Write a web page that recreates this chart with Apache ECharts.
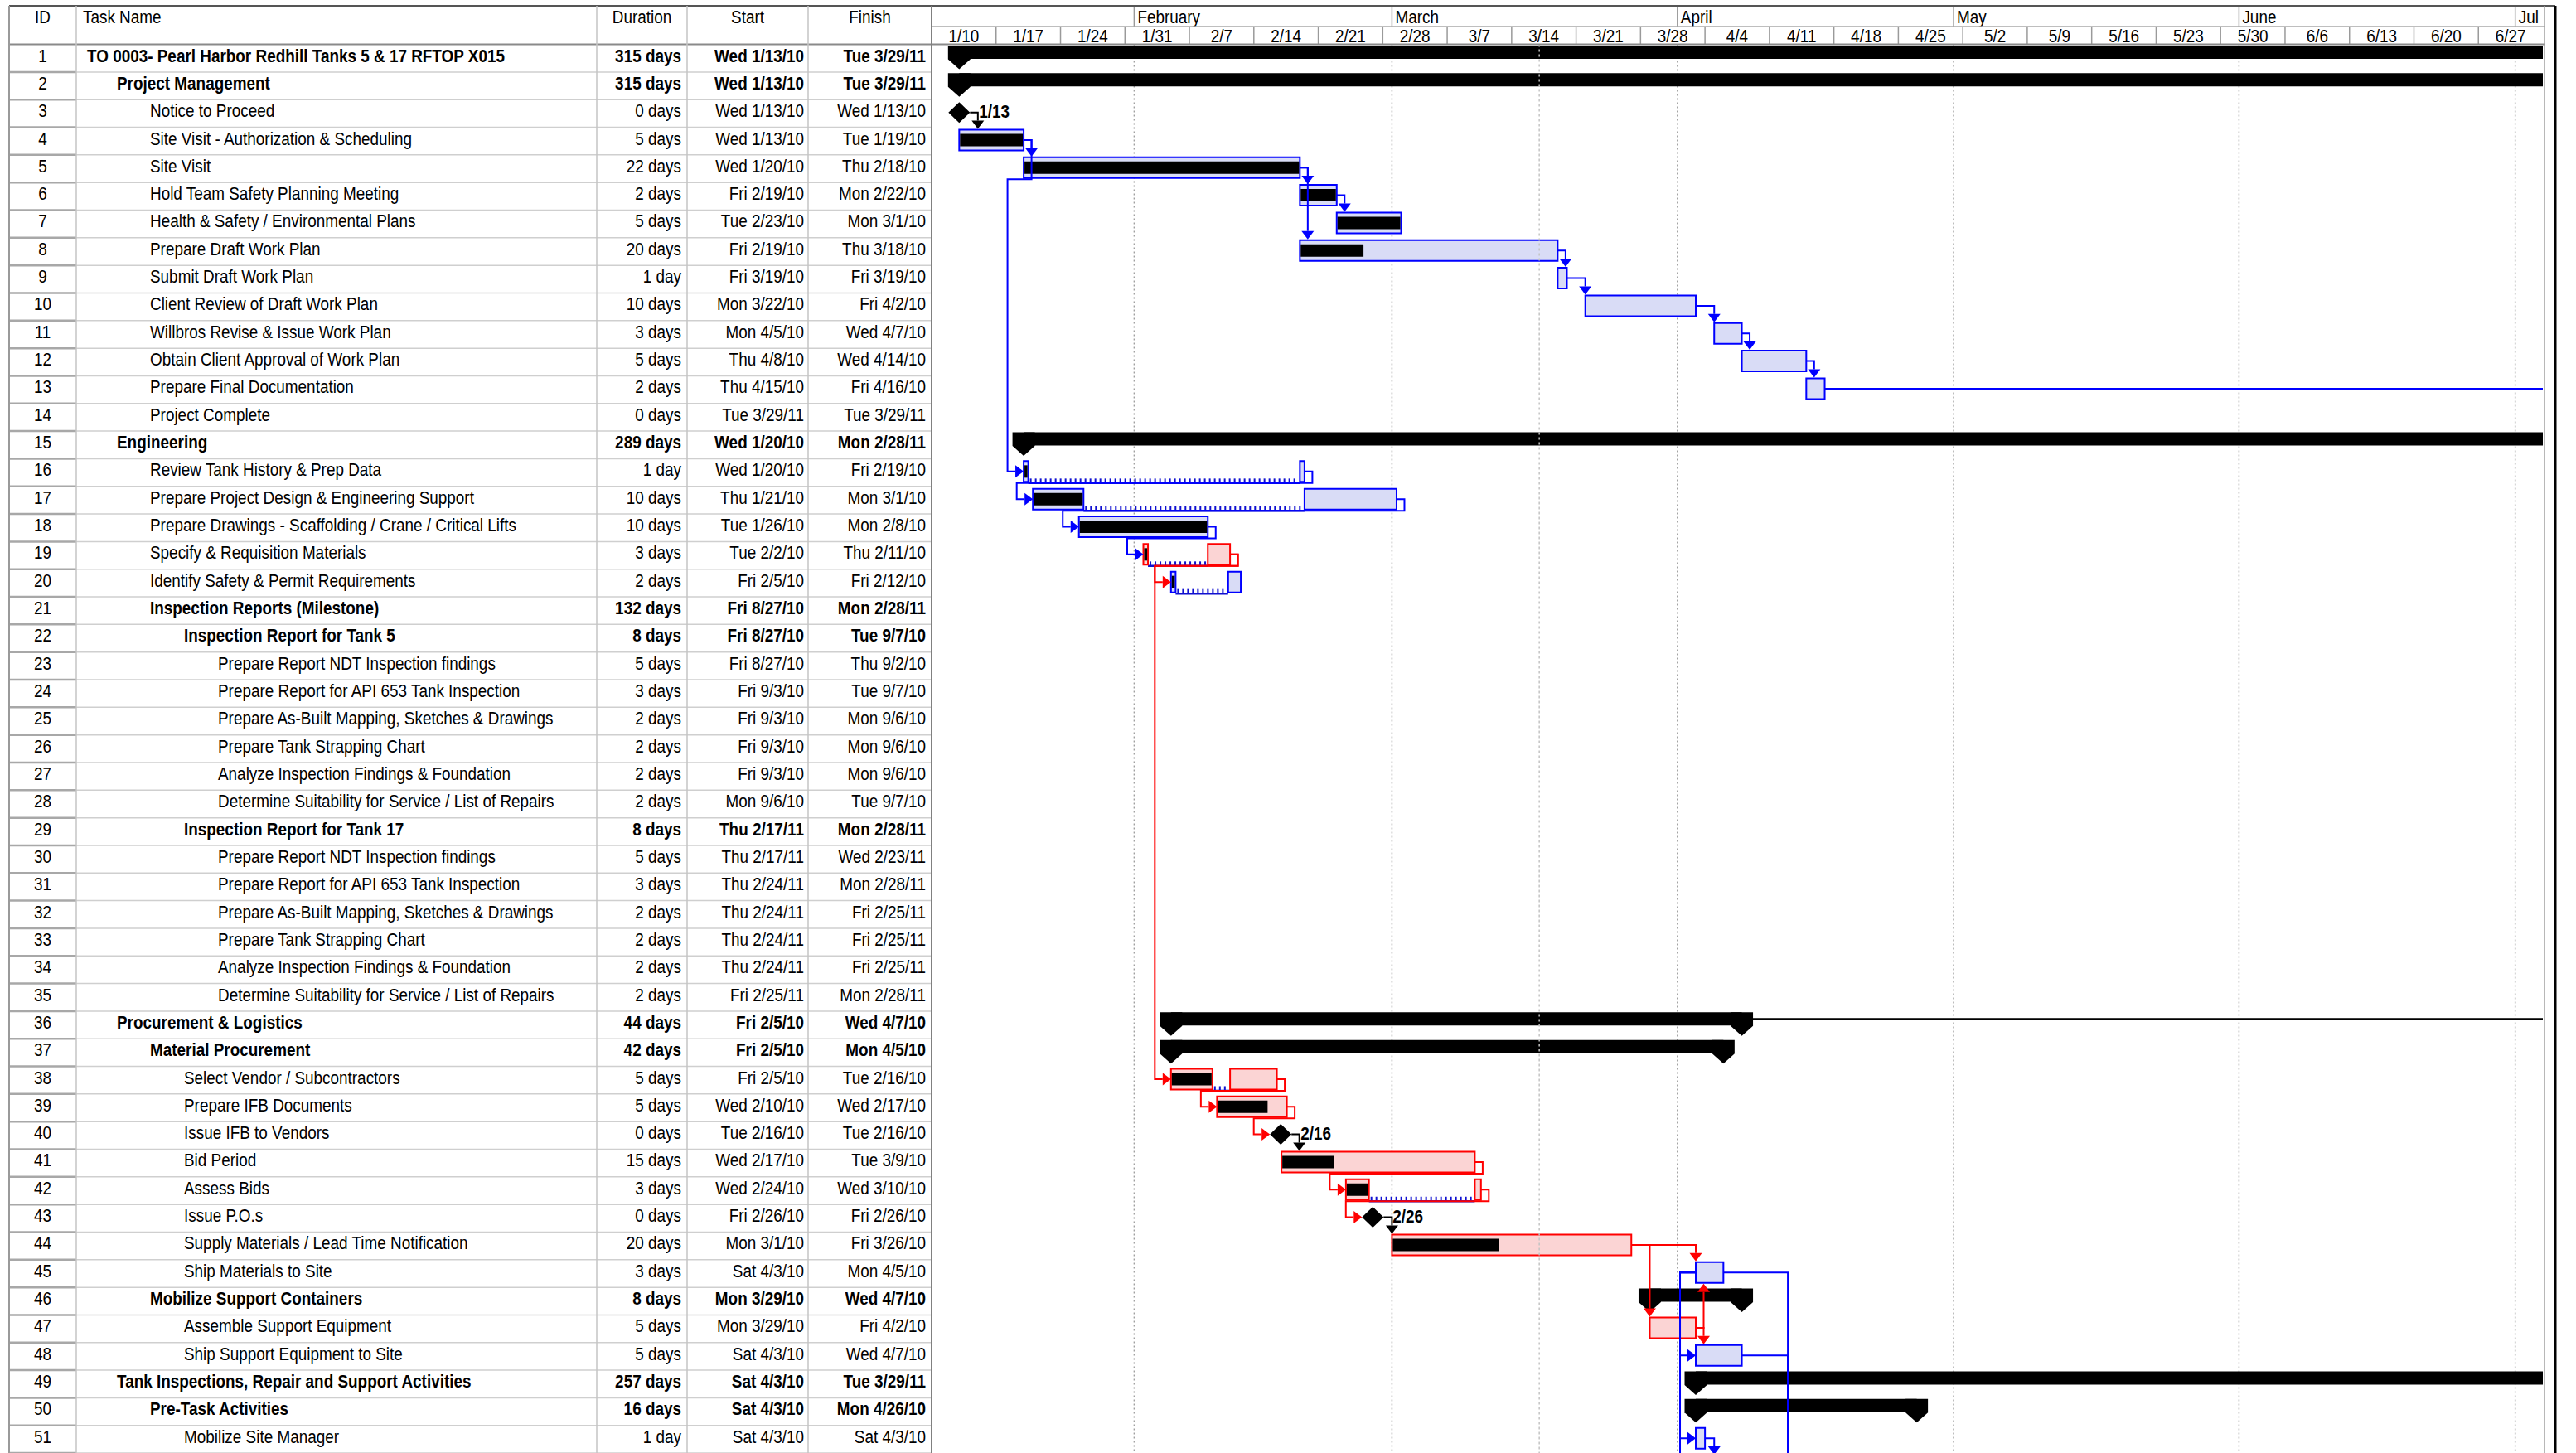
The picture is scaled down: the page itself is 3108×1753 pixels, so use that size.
<!DOCTYPE html>
<html><head><meta charset="utf-8">
<script src="https://cdn.jsdelivr.net/npm/echarts@6/dist/echarts.min.js"></script>
<style>html,body{margin:0;padding:0;background:#fff}#c{width:3108px;height:1753px}</style>
</head><body><div id="c"></div>
<script>
// ---------------- DATA ----------------
const columnTitles = ['ID', 'Task Name', 'Duration', 'Start', 'Finish'];
const taskNames = [
 'TO 0003- Pearl Harbor Redhill Tanks 5 & 17 RFTOP X015','Project Management','Notice to Proceed',
 'Site Visit - Authorization & Scheduling','Site Visit','Hold Team Safety Planning Meeting',
 'Health & Safety / Environmental Plans','Prepare Draft Work Plan','Submit Draft Work Plan',
 'Client Review of Draft Work Plan','Willbros Revise & Issue Work Plan','Obtain Client Approval of Work Plan',
 'Prepare Final Documentation','Project Complete','Engineering','Review Tank History & Prep Data',
 'Prepare Project Design & Engineering Support','Prepare Drawings - Scaffolding / Crane / Critical Lifts',
 'Specify & Requisition Materials','Identify Safety & Permit Requirements','Inspection Reports (Milestone)',
 'Inspection Report for Tank 5','Prepare Report NDT Inspection findings','Prepare Report for API 653 Tank Inspection',
 'Prepare As-Built Mapping, Sketches & Drawings','Prepare Tank Strapping Chart','Analyze Inspection Findings & Foundation',
 'Determine Suitability for Service / List of Repairs','Inspection Report for Tank 17','Prepare Report NDT Inspection findings',
 'Prepare Report for API 653 Tank Inspection','Prepare As-Built Mapping, Sketches & Drawings','Prepare Tank Strapping Chart',
 'Analyze Inspection Findings & Foundation','Determine Suitability for Service / List of Repairs','Procurement & Logistics',
 'Material Procurement','Select Vendor / Subcontractors','Prepare IFB Documents','Issue IFB to Vendors','Bid Period',
 'Assess Bids','Issue P.O.s','Supply Materials / Lead Time Notification','Ship Materials to Site',
 'Mobilize Support Containers','Assemble Support Equipment','Ship Support Equipment to Site',
 'Tank Inspections, Repair and Support Activities','Pre-Task Activities','Mobilize Site Manager'
];
const outlineLevels = [0,1,2,2,2,2,2,2,2,2,2,2,2,2,1,2,2,2,2,2,2,3,4,4,4,4,4,4,3,4,4,4,4,4,4,1,2,3,3,3,3,3,3,3,3,2,3,3,1,2,3];
const durations = ['315 days','315 days','0 days','5 days','22 days','2 days','5 days','20 days','1 day','10 days','3 days',
 '5 days','2 days','0 days','289 days','1 day','10 days','10 days','3 days','2 days','132 days','8 days','5 days','3 days',
 '2 days','2 days','2 days','2 days','8 days','5 days','3 days','2 days','2 days','2 days','2 days','44 days','42 days',
 '5 days','5 days','0 days','15 days','3 days','0 days','20 days','3 days','8 days','5 days','5 days','257 days','16 days','1 day'];
const startLabels = ['Wed 1/13/10','Wed 1/13/10','Wed 1/13/10','Wed 1/13/10','Wed 1/20/10','Fri 2/19/10','Tue 2/23/10',
 'Fri 2/19/10','Fri 3/19/10','Mon 3/22/10','Mon 4/5/10','Thu 4/8/10','Thu 4/15/10','Tue 3/29/11','Wed 1/20/10','Wed 1/20/10',
 'Thu 1/21/10','Tue 1/26/10','Tue 2/2/10','Fri 2/5/10','Fri 8/27/10','Fri 8/27/10','Fri 8/27/10','Fri 9/3/10','Fri 9/3/10',
 'Fri 9/3/10','Fri 9/3/10','Mon 9/6/10','Thu 2/17/11','Thu 2/17/11','Thu 2/24/11','Thu 2/24/11','Thu 2/24/11','Thu 2/24/11',
 'Fri 2/25/11','Fri 2/5/10','Fri 2/5/10','Fri 2/5/10','Wed 2/10/10','Tue 2/16/10','Wed 2/17/10','Wed 2/24/10','Fri 2/26/10',
 'Mon 3/1/10','Sat 4/3/10','Mon 3/29/10','Mon 3/29/10','Sat 4/3/10','Sat 4/3/10','Sat 4/3/10','Sat 4/3/10'];
const finishLabels = ['Tue 3/29/11','Tue 3/29/11','Wed 1/13/10','Tue 1/19/10','Thu 2/18/10','Mon 2/22/10','Mon 3/1/10',
 'Thu 3/18/10','Fri 3/19/10','Fri 4/2/10','Wed 4/7/10','Wed 4/14/10','Fri 4/16/10','Tue 3/29/11','Mon 2/28/11','Fri 2/19/10',
 'Mon 3/1/10','Mon 2/8/10','Thu 2/11/10','Fri 2/12/10','Mon 2/28/11','Tue 9/7/10','Thu 9/2/10','Tue 9/7/10','Mon 9/6/10',
 'Mon 9/6/10','Mon 9/6/10','Tue 9/7/10','Mon 2/28/11','Wed 2/23/11','Mon 2/28/11','Fri 2/25/11','Fri 2/25/11','Fri 2/25/11',
 'Mon 2/28/11','Wed 4/7/10','Mon 4/5/10','Tue 2/16/10','Wed 2/17/10','Tue 2/16/10','Tue 3/9/10','Wed 3/10/10','Fri 2/26/10',
 'Fri 3/26/10','Mon 4/5/10','Wed 4/7/10','Fri 4/2/10','Wed 4/7/10','Tue 3/29/11','Mon 4/26/10','Sat 4/3/10'];
const S='summary', T='task', M='milestone';
const rowKinds = [S,S,M,T,T,T,T,T,T,T,T,T,T,M,S,T,T,T,T,T,S,S,T,T,T,T,T,T,S,T,T,T,T,T,T,S,S,T,T,M,T,T,M,T,T,S,T,T,S,S,T];
const criticalRows = [19,38,39,41,42,44,47];
// bar segments (calendar start, calendar end) per row
const barSegments = [
 [['2010-01-13','2011-03-30']], [['2010-01-13','2011-03-30']], [['2010-01-13','2010-01-13']],
 [['2010-01-13','2010-01-20']], [['2010-01-20','2010-02-19']], [['2010-02-19','2010-02-23']],
 [['2010-02-23','2010-03-02']], [['2010-02-19','2010-03-19']], [['2010-03-19','2010-03-20']],
 [['2010-03-22','2010-04-03']], [['2010-04-05','2010-04-08']], [['2010-04-08','2010-04-15']],
 [['2010-04-15','2010-04-17']], [['2011-03-29T17:00','2011-03-29T17:00']], [['2010-01-20','2011-03-01']],
 [['2010-01-20','2010-01-20T12:00'],['2010-02-19','2010-02-19T12:00']],
 [['2010-01-21','2010-01-26T12:00'],['2010-02-19T12:00','2010-03-01T12:00']],
 [['2010-01-26','2010-02-09']],
 [['2010-02-02','2010-02-02T12:00'],['2010-02-09','2010-02-11T10:00']],
 [['2010-02-05','2010-02-05T12:00'],['2010-02-11T05:00','2010-02-12T14:00']],
 [['2010-08-27','2011-03-01']], [['2010-08-27','2010-09-08']], [['2010-08-27','2010-09-03']],
 [['2010-09-03','2010-09-08']], [['2010-09-03','2010-09-07']], [['2010-09-03','2010-09-07']],
 [['2010-09-03','2010-09-07']], [['2010-09-06','2010-09-08']], [['2011-02-17','2011-03-01']],
 [['2011-02-17','2011-02-24']], [['2011-02-24','2011-03-01']], [['2011-02-24','2011-02-26']],
 [['2011-02-24','2011-02-26']], [['2011-02-24','2011-02-26']], [['2011-02-25','2011-03-01']],
 [['2010-02-05','2010-04-08']], [['2010-02-05','2010-04-06']],
 [['2010-02-05','2010-02-09T12:00'],['2010-02-11T10:00','2010-02-16T12:00']],
 [['2010-02-10','2010-02-17T14:00']], [['2010-02-16T22:00','2010-02-16T22:00']],
 [['2010-02-17','2010-03-10']],
 [['2010-02-24','2010-02-26T12:00'],['2010-03-10','2010-03-10T16:00']],
 [['2010-02-26T22:00','2010-02-26T22:00']], [['2010-03-01','2010-03-27']],
 [['2010-04-03','2010-04-06']], [['2010-03-29','2010-04-08']], [['2010-03-29','2010-04-03']],
 [['2010-04-03','2010-04-08']], [['2010-04-03','2011-03-30']], [['2010-04-03','2010-04-27']],
 [['2010-04-03','2010-04-04']]
];
const progressEnds = {4:'2010-01-20',5:'2010-02-19',6:'2010-02-23',7:'2010-03-02',8:'2010-02-26',
 16:'2010-01-20T12:00',17:'2010-01-26T12:00',18:'2010-02-09',19:'2010-02-02T12:00',20:'2010-02-05T12:00',
 38:'2010-02-09T12:00',39:'2010-02-15T14:00',41:'2010-02-22T18:00',42:'2010-02-26T12:00',44:'2010-03-12T16:00'};
// successors below the visible rows
const offscreenStarts = {52:'2010-04-05', 53:'2010-04-13'};
// [predecessor, successor, route, turnRow]
const links = [
 [3,4,'down'],[4,5,'down'],[4,16,'around',5],[5,6,'down'],[5,8,'down'],[6,7,'down'],[8,9,'down'],
 [9,10,'down'],[10,11,'down'],[11,12,'down'],[12,13,'down'],[13,14,'down'],
 [16,17,'around',16],[17,18,'around',17],[18,19,'around',18],[19,20,'around',19],[19,38,'around',19],
 [36,21,'up'],[38,39,'around',38],[39,40,'around',39],[40,41,'down'],[41,42,'around',41],[42,43,'around',42],
 [43,44,'down'],[44,45,'down'],[44,47,'down'],[47,45,'up'],[47,48,'down'],
 [45,48,'ss'],[45,51,'ss'],[45,53,'ss'],[45,53,'down'],[48,53,'down'],[51,52,'down']
];
const weekStarts = ['2010-01-10','2010-01-17','2010-01-24','2010-01-31','2010-02-07','2010-02-14','2010-02-21',
 '2010-02-28','2010-03-07','2010-03-14','2010-03-21','2010-03-28','2010-04-04','2010-04-11','2010-04-18','2010-04-25',
 '2010-05-02','2010-05-09','2010-05-16','2010-05-23','2010-05-30','2010-06-06','2010-06-13','2010-06-20','2010-06-27'];
const monthStarts = ['2010-02-01','2010-03-01','2010-04-01','2010-05-01','2010-06-01','2010-07-01'];
const monthLabels = ['February','March','April','May','June','Jul'];
const currentDate = '2010-03-17';
const timeRange = ['2010-01-10','2010-07-04'];

// ---------------- HELPERS / LAYOUT ----------------
const DAY = 86400000;
function t(s){ const m=/^(\d{4})-(\d{2})-(\d{2})(?:T(\d{2}):(\d{2}))?$/.exec(s);
  return Date.UTC(+m[1], +m[2]-1, +m[3], m[4]?+m[4]:0, m[5]?+m[5]:0); }
function md(ms){ const d=new Date(ms); return (d.getUTCMonth()+1)+'/'+d.getUTCDate(); }
const tMin=t(timeRange[0]), tMax=t(timeRange[1]);
const FONT = "'Liberation Sans', Arial, Helvetica, sans-serif";
const FS = 22, SX = 0.86;
const ROW_H = 33.4, GRID_TOP = 53.5, GRID_LEFT = 1124, GRID_W = 1944, NROW = taskNames.length;
const GRID_RIGHT = GRID_LEFT + GRID_W;
const HDR_TOP = 7, HDR_MID = 32, HDR_BOT = 53.5;
const COLS = [11, 92, 720, 829, 975, 1124];
const NAME_X = [105, 141, 181, 222, 263];
const BLUE='#0000ff', BLUE_FILL='#d9dcf6', RED='#ff0000', RED_FILL='#fbd4d4', COMB='#1010d0';
const TEXT_DY = 13;

function G(api){ return { x: ms => api.coord([ms,0])[0], top: row => api.coord([tMin,row-1])[1] }; }
function info(row, g){
  const top = g.top(row);
  if (row > NROW){ const sx=g.x(t(offscreenStarts[row])); return {kind:T, startX:sx, endX:sx+11, top, cy:top+15.5, boxTop:top+2, boxBottom:top+29, crit:false}; }
  const i=row-1, kind=rowKinds[i], segs=barSegments[i];
  if (kind===M){ const c=g.x(t(segs[0][0])); return {kind, startX:c-13, endX:c+13, top, cy:top+15.5, boxTop:top+3, boxBottom:top+28}; }
  const sx=g.x(t(segs[0][0])), ex=g.x(t(segs[segs.length-1][1]));
  if (kind===S) return {kind, startX:sx, endX:ex, top, cy:top+9.5, boxTop:top+1.5, boxBottom:top+17.5};
  return {kind, startX:sx, endX:ex, top, cy:top+15.5, boxTop:top+2, boxBottom:top+29, crit:criticalRows.includes(row)};
}
// text drawn a little condensed, like the narrow face of the original
function txt(text, x, y, align, bold, size){
  return {type:'text', x, y, scaleX:SX, scaleY:1, style:{text, x:0, y:0, align, verticalAlign:'middle', fill:'#000',
    fontSize:size||FS, fontFamily:FONT, fontWeight:bold?'bold':'normal'}};
}
function ln(x1,y1,x2,y2,stroke,w,dash){
  return {type:'line', shape:{x1,y1,x2,y2}, style:{stroke, lineWidth:w, lineDash:dash||null}};
}

// ---------------- RENDERERS ----------------
function renderBar(params, api){
  const i=params.dataIndex, row=i+1, g=G(api), top=g.top(row), kind=rowKinds[i], segs=barSegments[i], ch=[];
  if (kind===S){
    const x1=g.x(t(segs[0][0])), x2=g.x(t(segs[0][1]));
    ch.push({type:'rect', shape:{x:x1, y:top+1.5, width:x2-x1, height:16}, style:{fill:'#000'}});
    [x1,x2].forEach(xc => ch.push({type:'polygon', shape:{points:[[xc-13.5,top+1.5],[xc+13.5,top+1.5],[xc+13.5,top+18],[xc,top+30],[xc-13.5,top+18]]}, style:{fill:'#000'}}));
  } else if (kind===M){
    const ms=t(segs[0][0]), xc=g.x(ms), cy=top+15.5;
    ch.push({type:'polygon', shape:{points:[[xc,cy-12.5],[xc+13,cy],[xc,cy+12.5],[xc-13,cy]]}, style:{fill:'#000'}});
    if (xc + 70 < GRID_RIGHT) ch.push(txt(md(ms), xc+24, top+14, 'left', true));
  } else {
    const crit=criticalRows.includes(row), stroke=crit?RED:BLUE, fill=crit?RED_FILL:BLUE_FILL;
    for (let k=0;k<segs.length-1;k++){
      const a=g.x(t(segs[k][1])), b=g.x(t(segs[k+1][0]));
      ch.push(ln(a, top+29.5, b, top+29.5, COMB, 2.5));
      for (let xx=a+3; xx<b-1; xx+=6) ch.push(ln(xx, top+24, xx, top+29.5, COMB, 2));
    }
    const pe = progressEnds[row] ? t(progressEnds[row]) : null;
    segs.forEach(sg => {
      const s=t(sg[0]), e=t(sg[1]), x1=g.x(s), x2=g.x(e);
      ch.push({type:'rect', shape:{x:x1, y:top+3, width:x2-x1, height:25}, style:{fill, stroke, lineWidth:2}});
      if (pe!==null && pe>s){
        const xp=g.x(Math.min(pe,e));
        ch.push({type:'rect', shape:{x:x1+1, y:top+8, width:Math.max(1,xp-x1-2), height:15}, style:{fill:'#000'}});
      }
    });
  }
  return {type:'group', children:ch};
}
function renderLink(params, api){
  const [from,to,route,turnRow]=links[params.dataIndex], g=G(api);
  const p=info(from,g), s=info(to,g);
  const col = p.kind===T ? (p.crit?RED:BLUE) : '#000';
  const AL=10, AW=7.5; let pts, arrow;
  if (route==='down' || route==='up'){
    const dx=Math.max(s.startX, p.endX+9.5);
    if (route==='down'){ const ty=s.boxTop; pts=[[p.endX,p.cy],[dx,p.cy],[dx,ty-AL]]; arrow=[[dx-AW,ty-AL],[dx+AW,ty-AL],[dx,ty]]; }
    else { const ty=s.boxBottom; pts=[[p.endX,p.cy],[dx,p.cy],[dx,ty+AL]]; arrow=[[dx-AW,ty+AL],[dx+AW,ty+AL],[dx,ty]]; }
  } else if (route==='around'){
    const ty=g.top(turnRow)+29.5, rx=p.endX+9.5, lx=s.startX-19.5;
    pts=[[p.endX,p.cy],[rx,p.cy],[rx,ty],[lx,ty],[lx,s.cy],[s.startX-AL,s.cy]];
    arrow=[[s.startX-AL,s.cy-AW],[s.startX-AL,s.cy+AW],[s.startX,s.cy]];
  } else {
    const lx=p.startX-19;
    pts=[[p.startX,p.cy],[lx,p.cy],[lx,s.cy],[s.startX-AL,s.cy]];
    arrow=[[s.startX-AL,s.cy-AW],[s.startX-AL,s.cy+AW],[s.startX,s.cy]];
  }
  return {type:'group', children:[
    {type:'polyline', shape:{points:pts}, style:{stroke:col, lineWidth:2, fill:null}},
    {type:'polygon', shape:{points:arrow}, style:{fill:col}}]};
}
function renderRow(params, api){
  const i=params.dataIndex, row=i+1, g=G(api), top=g.top(row), bold=rowKinds[i]===S, y=top+TEXT_DY, bot=top+ROW_H;
  return {type:'group', children:[
    ln(COLS[1], bot, COLS[5], bot, '#cfcfcf', 1.5),
    ln(COLS[0], bot, COLS[1], bot, '#a8a8a8', 2.5),
    txt(String(row), (COLS[0]+COLS[1])/2, y, 'center', false),
    txt(taskNames[i], NAME_X[outlineLevels[i]], y, 'left', bold),
    txt(durations[i], COLS[3]-7, y, 'right', bold),
    txt(startLabels[i], COLS[4]-5, y, 'right', bold),
    txt(finishLabels[i], COLS[5]-7, y, 'right', bold)
  ]};
}
function renderWeek(params, api){
  const ms=t(weekStarts[params.dataIndex]), x1=api.coord([ms,0])[0], x2=api.coord([ms+7*DAY,0])[0];
  return {type:'group', children:[ ln(x1, HDR_MID, x1, HDR_BOT, '#9a9a9a', 1.5), txt(md(ms), (x1+x2)/2, 43, 'center', false) ]};
}
function renderMonth(params, api){
  const i=params.dataIndex, x=api.coord([t(monthStarts[i]),0])[0];
  return {type:'group', children:[ ln(x, HDR_TOP, x, HDR_MID, '#9a9a9a', 1.5), txt(monthLabels[i], x+4, 20, 'left', false) ]};
}
function renderMonthLine(params, api){
  const x=api.coord([t(monthStarts[params.dataIndex]),0])[0];
  return ln(x, GRID_TOP, x, GRID_TOP+NROW*ROW_H, '#a0a0a0', 1.5, [2,3]);
}
function renderCurrent(params, api){
  const x=api.coord([t(currentDate),0])[0];
  return ln(x, GRID_TOP, x, GRID_TOP+NROW*ROW_H, '#c4c4c4', 1.5, [3,3]);
}

// ---------------- CHART ----------------
const chart = echarts.init(document.getElementById('c'), null, {renderer:'svg', width:3108, height:1753});
const rowData = taskNames.map((_,i)=>[tMin,i]);
const hdrX = [(COLS[0]+COLS[1])/2, COLS[1]+8, (COLS[2]+COLS[3])/2, (COLS[3]+COLS[4])/2, (COLS[4]+COLS[5])/2];
const hdrAlign = ['center','left','center','center','center'];
const graphics = [
  {type:'rect', shape:{x:0,y:0,width:3108,height:1753}, style:{fill:'#fff'}, z:-10, silent:true},
  {type:'line', shape:{x1:COLS[0],y1:HDR_TOP,x2:3083,y2:HDR_TOP}, style:{stroke:'#555',lineWidth:2}, z:10},
  {type:'line', shape:{x1:COLS[0],y1:HDR_BOT,x2:3070,y2:HDR_BOT}, style:{stroke:'#8a8a8a',lineWidth:2}, z:10},
  {type:'line', shape:{x1:GRID_LEFT,y1:HDR_MID,x2:3070,y2:HDR_MID}, style:{stroke:'#a8a8a8',lineWidth:1.5}, z:10},
  {type:'line', shape:{x1:COLS[0],y1:HDR_TOP,x2:COLS[0],y2:1753}, style:{stroke:'#9a9a9a',lineWidth:2}, z:10},
  {type:'line', shape:{x1:3070,y1:HDR_TOP,x2:3070,y2:1753}, style:{stroke:'#a0a0a0',lineWidth:1.5}, z:10},
  {type:'line', shape:{x1:3083,y1:HDR_TOP,x2:3083,y2:1753}, style:{stroke:'#000',lineWidth:3}, z:10}
];
COLS.slice(1).forEach((x,k)=>graphics.push({type:'line', shape:{x1:x,y1:HDR_TOP,x2:x,y2:1753},
  style:{stroke:k===4?'#808080':'#c4c4c4', lineWidth:k===4?2:1.5}, z:10}));
columnTitles.forEach((s,k)=>graphics.push({type:'text', x:hdrX[k], y:20, scaleX:SX, z:10,
  style:{text:s, x:0, y:0, fontSize:FS, fontFamily:FONT, fill:'#000', align:hdrAlign[k], verticalAlign:'middle'}}));

chart.setOption({
  animation:false,
  useUTC:true,
  grid:{left:GRID_LEFT, top:GRID_TOP, width:GRID_W, height:NROW*ROW_H, containLabel:false},
  xAxis:{type:'time', min:tMin, max:tMax, show:false},
  yAxis:{type:'value', min:0, max:NROW, inverse:true, show:false},
  graphic:graphics,
  series:[
    {type:'custom', name:'monthLines', z:1, silent:true, clip:true, renderItem:renderMonthLine, data:monthStarts.map(m=>[t(m),0])},
    {type:'custom', name:'bars', z:3, silent:true, clip:true, renderItem:renderBar, data:barSegments.map((s,i)=>[t(s[0][0]),i])},
    {type:'custom', name:'links', z:4, silent:true, clip:true, renderItem:renderLink, data:links.map(l=>[tMin,l[0]])},
    {type:'custom', name:'currentDate', z:5, silent:true, clip:true, renderItem:renderCurrent, data:[[t(currentDate),0]]},
    {type:'custom', name:'table', z:6, silent:true, clip:false, renderItem:renderRow, data:rowData},
    {type:'custom', name:'weeks', z:6, silent:true, clip:false, renderItem:renderWeek, data:weekStarts.map(w=>[t(w),0])},
    {type:'custom', name:'months', z:6, silent:true, clip:false, renderItem:renderMonth, data:monthStarts.map(m=>[t(m),0])}
  ]
});
</script></body></html>
